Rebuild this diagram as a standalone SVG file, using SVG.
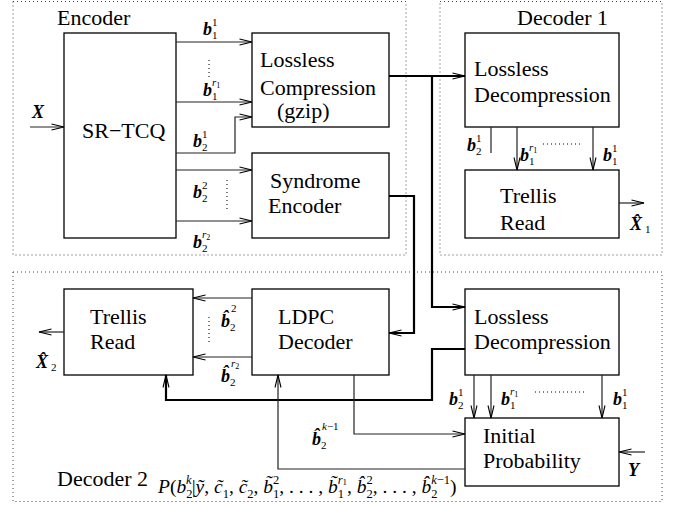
<svg xmlns="http://www.w3.org/2000/svg" width="677" height="505" viewBox="0 0 677 505">
<style>
.region{fill:none;stroke:#444;stroke-width:1;stroke-dasharray:1 3}
.box{fill:none;stroke:#000;stroke-width:1.3}
.ln{fill:none;stroke:#222;stroke-width:1.2}
.thk{fill:none;stroke:#000;stroke-width:2.2}
.dots{fill:none;stroke:#000;stroke-width:1;stroke-dasharray:1 3}
.t{font-family:"Liberation Serif",serif;font-size:22px;fill:#000}
.bi{font-family:"Liberation Serif",serif;font-weight:bold;font-style:italic;font-size:18px;fill:#000}
.sc{font-weight:normal;font-style:normal;font-size:11px}
.sci{font-weight:normal;font-style:italic;font-size:11px}
.ss{font-weight:normal;font-style:normal;font-size:8px}
.fm{font-family:"Liberation Serif",serif;font-size:19.5px;fill:#000}
.fi{font-style:italic}
.fs{font-size:12.5px}
.fss{font-size:9px}
</style>
<defs>
<marker id="ah" viewBox="0 0 14 8" refX="13" refY="4" markerWidth="14" markerHeight="8" markerUnits="userSpaceOnUse" orient="auto">
<path d="M0.5,1 L13,4 L0.5,7" fill="none" stroke="#000" stroke-width="1.1"/>
</marker>
</defs>

<g id="regions">
<rect id="region-encoder" class="region" x="13" y="1.5" width="393" height="253.5"/>
<rect id="region-decoder1" class="region" x="440" y="1.5" width="222" height="253.5"/>
<rect id="region-decoder2" class="region" x="13" y="272" width="649" height="229.5"/>
<text class="t" x="57" y="25">Encoder</text>
<text class="t" x="517" y="25">Decoder 1</text>
<text class="t" x="57" y="486">Decoder 2</text>
</g>

<g id="n-srtcq">
<rect class="box" x="64" y="33" width="112" height="205"/>
<text class="t" x="82" y="138">SR−TCQ</text>
</g>
<g id="n-lc">
<rect class="box" x="252" y="33" width="137" height="94"/>
<text class="t" x="260" y="67">Lossless</text>
<text class="t" x="260" y="95">Compression</text>
<text class="t" x="277" y="118">(gzip)</text>
</g>
<g id="n-se">
<rect class="box" x="252" y="153" width="137" height="85"/>
<text class="t" x="270" y="188">Syndrome</text>
<text class="t" x="268" y="213">Encoder</text>
</g>
<g id="n-ld1">
<rect class="box" x="465" y="33" width="154" height="94"/>
<text class="t" x="474" y="76">Lossless</text>
<text class="t" x="474" y="102">Decompression</text>
</g>
<g id="n-tr1">
<rect class="box" x="465" y="170" width="154" height="68"/>
<text class="t" x="500" y="203">Trellis</text>
<text class="t" x="500" y="230">Read</text>
</g>
<g id="n-tr2">
<rect class="box" x="64" y="289" width="129" height="86"/>
<text class="t" x="90" y="324">Trellis</text>
<text class="t" x="90" y="349">Read</text>
</g>
<g id="n-ldpc">
<rect class="box" x="252" y="289" width="137" height="86"/>
<text class="t" x="278" y="324">LDPC</text>
<text class="t" x="278" y="349">Decoder</text>
</g>
<g id="n-ld2">
<rect class="box" x="465" y="289" width="154" height="86"/>
<text class="t" x="474" y="324">Lossless</text>
<text class="t" x="474" y="349">Decompression</text>
</g>
<g id="n-ip">
<rect class="box" x="465" y="418" width="154" height="68"/>
<text class="t" x="483" y="443">Initial</text>
<text class="t" x="483" y="468">Probability</text>
</g>

<g id="connectors">
<path class="ln" d="M30,127 H64" marker-end="url(#ah)"/>
<path class="ln" d="M176,42 H252" marker-end="url(#ah)"/>
<path class="ln" d="M176,102 H252" marker-end="url(#ah)"/>
<path class="ln" d="M176,153 H235 V117 H252" marker-end="url(#ah)"/>
<path class="ln" d="M176,170 H252" marker-end="url(#ah)"/>
<path class="ln" d="M176,221 H252" marker-end="url(#ah)"/>
<path class="thk" d="M389,76 H465" marker-end="url(#ah)"/>
<path class="thk" d="M432,76 V307 H465" marker-end="url(#ah)"/>
<path class="thk" d="M389,196 H414 V333 H389" marker-end="url(#ah)"/>
<path class="ln" d="M491,127 V153"/>
<path class="ln" d="M517,127 V170" marker-end="url(#ah)"/>
<path class="ln" d="M593,127 V170" marker-end="url(#ah)"/>
<path class="ln" d="M619,203 H644" marker-end="url(#ah)"/>
<path class="ln" d="M252,298 H193" marker-end="url(#ah)"/>
<path class="ln" d="M252,357 H193" marker-end="url(#ah)"/>
<path class="ln" d="M64,332 H39" marker-end="url(#ah)"/>
<path class="thk" d="M465,349 H432 V400 H166 V375" marker-end="url(#ah)"/>
<path class="ln" d="M354,375 V434 H465" marker-end="url(#ah)"/>
<path class="ln" d="M465,469 H278 V375" marker-end="url(#ah)"/>
<path class="ln" d="M474,375 V418" marker-end="url(#ah)"/>
<path class="ln" d="M491,375 V418" marker-end="url(#ah)"/>
<path class="ln" d="M602,375 V418" marker-end="url(#ah)"/>
<path class="ln" d="M645,452 H619" marker-end="url(#ah)"/>

<path class="dots" d="M209,60 V78 M227,180 V210 M543,144 H580 M209,317 V343 M535,392 H585"/>
</g>

<g id="labels">
<text class="bi" x="32" y="118">X</text>

<text class="bi" x="203" y="35">b<tspan class="sc" x="212" y="39">1</tspan><tspan class="sc" x="212" y="26">1</tspan></text>
<text class="bi" x="203" y="96">b<tspan class="sc" x="212" y="100">1</tspan><tspan class="sci" x="212" y="86">r</tspan><tspan class="ss" dy="2">1</tspan></text>
<text class="bi" x="193" y="147">b<tspan class="sc" x="202" y="151">2</tspan><tspan class="sc" x="202" y="138">1</tspan></text>
<text class="bi" x="193" y="198">b<tspan class="sc" x="202" y="202">2</tspan><tspan class="sc" x="202" y="189">2</tspan></text>
<text class="bi" x="193" y="248">b<tspan class="sc" x="202" y="252">2</tspan><tspan class="sci" x="202" y="238">r</tspan><tspan class="ss" dy="2">2</tspan></text>

<text class="bi" x="467" y="151">b<tspan class="sc" x="476" y="155">2</tspan><tspan class="sc" x="476" y="142">1</tspan></text>
<text class="bi" x="520" y="161">b<tspan class="sc" x="529" y="165">1</tspan><tspan class="sci" x="529" y="151">r</tspan><tspan class="ss" dy="2">1</tspan></text>
<text class="bi" x="603" y="161">b<tspan class="sc" x="612" y="165">1</tspan><tspan class="sc" x="612" y="152">1</tspan></text>

<text class="bi" x="630" y="230">X̂<tspan class="sc" x="645" y="233">1</tspan></text>

<text class="bi" x="221" y="327">b̂<tspan class="sc" x="230" y="331">2</tspan><tspan class="sc" x="231" y="312">2</tspan></text>
<text class="bi" x="221" y="382">b̂<tspan class="sc" x="230" y="386">2</tspan><tspan class="sci" x="231" y="367">r</tspan><tspan class="ss" dy="2">2</tspan></text>
<text class="bi" x="36" y="368">X̂<tspan class="sc" x="51" y="371">2</tspan></text>

<text class="bi" x="312" y="445">b̂<tspan class="sc" x="321" y="449">2</tspan><tspan class="sci" x="322" y="430">k</tspan><tspan class="sc">−1</tspan></text>

<text class="bi" x="449" y="405">b<tspan class="sc" x="458" y="409">2</tspan><tspan class="sc" x="458" y="396">1</tspan></text>
<text class="bi" x="501" y="405">b<tspan class="sc" x="510" y="409">1</tspan><tspan class="sci" x="510" y="395">r</tspan><tspan class="ss" dy="2">1</tspan></text>
<text class="bi" x="613" y="405">b<tspan class="sc" x="622" y="409">1</tspan><tspan class="sc" x="622" y="396">1</tspan></text>

<text class="bi" x="628" y="476">Y</text>

<text class="fm" x="158" y="493"><tspan class="fi">P</tspan>(<tspan class="fi">b</tspan><tspan class="fs" dy="4.5">2</tspan><tspan class="fs fi" dx="-6.3" dy="-13.5">k</tspan><tspan dy="9">|</tspan><tspan class="fi">ỹ</tspan>, <tspan class="fi">c̃</tspan><tspan class="fs" dy="4.5">1</tspan><tspan dy="-4.5">, </tspan><tspan class="fi">c̃</tspan><tspan class="fs" dy="4.5">2</tspan><tspan dy="-4.5">, </tspan><tspan class="fi">b̃</tspan><tspan class="fs" dy="4.5">1</tspan><tspan class="fs" dx="-6.3" dy="-13.5">2</tspan><tspan dy="9">, . . . , </tspan><tspan class="fi">b̃</tspan><tspan class="fs" dy="4.5">1</tspan><tspan class="fs fi" dx="-6.3" dy="-13.5">r</tspan><tspan class="fss" dy="0.5">1</tspan><tspan dy="8.5">, </tspan><tspan class="fi">b̂</tspan><tspan class="fs" dy="4.5">2</tspan><tspan class="fs" dx="-6.3" dy="-13.5">2</tspan><tspan dy="9">, . . . , </tspan><tspan class="fi">b̂</tspan><tspan class="fs" dy="4.5">2</tspan><tspan class="fs fi" dx="-6.3" dy="-13.5">k</tspan><tspan class="fs">−1</tspan><tspan dy="9">)</tspan></text>
</g>
</svg>
